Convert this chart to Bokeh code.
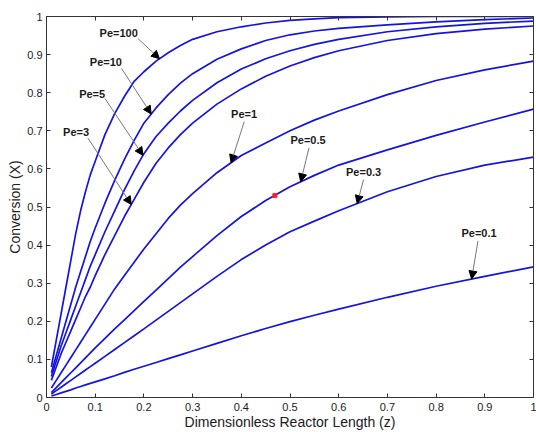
import numpy as np
from bokeh.plotting import figure
from bokeh.models import Arrow, NormalHead, LinearAxis, FixedTicker, ColumnDataSource
from bokeh.core.properties import value
from bokeh.embed import file_html
from bokeh.resources import INLINE

# ---- data ----
z = [0.01, 0.02, 0.03, 0.04, 0.05, 0.06, 0.07, 0.08, 0.09, 0.1, 0.12, 0.14, 0.16, 0.18, 0.2,
     0.225, 0.25, 0.275, 0.3, 0.35, 0.4, 0.45, 0.5, 0.55, 0.6, 0.7, 0.8, 0.9, 1.0]

pe100 = [0.08, 0.15, 0.22, 0.29, 0.36, 0.43, 0.49, 0.54, 0.585, 0.62, 0.69, 0.745, 0.79, 0.83, 0.855,
         0.883, 0.905, 0.924, 0.94, 0.96, 0.973, 0.983, 0.99, 0.994, 0.997, 0.999, 1.0, 1.0, 1.0]
pe10 = [0.065, 0.11, 0.155, 0.2, 0.245, 0.29, 0.33, 0.37, 0.41, 0.445, 0.51, 0.57, 0.625, 0.675, 0.72,
        0.76, 0.795, 0.825, 0.85, 0.888, 0.915, 0.937, 0.952, 0.962, 0.969, 0.978, 0.986, 0.992, 0.996]
pe5 = [0.055, 0.095, 0.135, 0.17, 0.205, 0.24, 0.275, 0.31, 0.345, 0.375, 0.435, 0.49, 0.545, 0.595, 0.64,
       0.685, 0.72, 0.752, 0.78, 0.826, 0.862, 0.889, 0.91, 0.927, 0.94, 0.96, 0.973, 0.982, 0.988]
pe3 = [0.045, 0.08, 0.115, 0.145, 0.175, 0.205, 0.235, 0.265, 0.29, 0.32, 0.375, 0.425, 0.475, 0.52, 0.565,
       0.615, 0.655, 0.69, 0.72, 0.77, 0.81, 0.843, 0.87, 0.892, 0.91, 0.937, 0.955, 0.967, 0.975]
pe1 = [0.025, 0.045, 0.065, 0.085, 0.105, 0.125, 0.145, 0.165, 0.185, 0.205, 0.245, 0.285, 0.32, 0.355, 0.39,
       0.43, 0.47, 0.505, 0.535, 0.59, 0.635, 0.668, 0.70, 0.728, 0.752, 0.795, 0.832, 0.86, 0.883]
pe05 = [0.013, 0.026, 0.039, 0.052, 0.065, 0.078, 0.091, 0.104, 0.117, 0.13, 0.155, 0.18, 0.204, 0.228, 0.252,
        0.282, 0.312, 0.342, 0.37, 0.425, 0.475, 0.517, 0.553, 0.583, 0.61, 0.65, 0.688, 0.723, 0.757]
pe03 = [0.009, 0.018, 0.027, 0.036, 0.045, 0.054, 0.063, 0.072, 0.081, 0.09, 0.108, 0.126, 0.144, 0.162, 0.18,
        0.203, 0.226, 0.249, 0.272, 0.318, 0.362, 0.40, 0.435, 0.463, 0.49, 0.54, 0.58, 0.61, 0.631]
pe01 = [0.004, 0.008, 0.012, 0.016, 0.02, 0.025, 0.029, 0.033, 0.037, 0.041, 0.049, 0.057, 0.066, 0.074, 0.082,
        0.092, 0.102, 0.112, 0.122, 0.142, 0.162, 0.181, 0.199, 0.216, 0.232, 0.263, 0.292, 0.318, 0.343]

curves = [pe100, pe10, pe5, pe3, pe1, pe05, pe03, pe01]
labels = ["Pe=100", "Pe=10", "Pe=5", "Pe=3", "Pe=1", "Pe=0.5", "Pe=0.3", "Pe=0.1"]
label_x = [0.109, 0.089, 0.067, 0.034, 0.379, 0.501, 0.615, 0.852]
label_y = [0.956, 0.881, 0.797, 0.696, 0.744, 0.677, 0.591, 0.431]
arrow_from_x = [0.188, 0.154, 0.12, 0.085, 0.406, 0.539, 0.651, 0.886]
arrow_from_y = [0.942, 0.864, 0.785, 0.681, 0.724, 0.655, 0.572, 0.411]
arrow_tip_z = [0.232, 0.215, 0.198, 0.174, 0.379, 0.522, 0.638, 0.873]

marker_z = [0.469]
marker_x = [0.530]

x_ticks = [0, 0.1, 0.2, 0.3, 0.4, 0.5, 0.6, 0.7, 0.8, 0.9, 1]
x_tick_labels = ["0", "0.1", "0.2", "0.3", "0.4", "0.5", "0.6", "0.7", "0.8", "0.9", "1"]
y_ticks = [0, 0.1, 0.2, 0.3, 0.4, 0.5, 0.6, 0.7, 0.8, 0.9, 1]
y_tick_labels = ["0", "0.1", "0.2", "0.3", "0.4", "0.5", "0.6", "0.7", "0.8", "0.9", "1"]

FONT = "Liberation Sans"
AX = "#333333"

p = figure(width=536, height=432, x_range=(0, 1), y_range=(0, 1),
           output_backend="svg", toolbar_location=None,
           min_border_left=46, min_border_right=3, min_border_top=16, min_border_bottom=33)
p.grid.visible = False
p.outline_line_color = AX
p.background_fill_color = "white"
p.border_fill_color = "white"

for ax, ticks, labs in ((p.xaxis[0], x_ticks, x_tick_labels), (p.yaxis[0], y_ticks, y_tick_labels)):
    ax.ticker = FixedTicker(ticks=ticks)
    ax.major_label_overrides = {t: l for t, l in zip(ticks, labs)}
    ax.major_tick_in = 4
    ax.major_tick_out = 0
    ax.minor_tick_line_color = None
    ax.axis_line_color = AX
    ax.major_tick_line_color = AX
    ax.major_label_text_font = FONT
    ax.major_label_text_font_size = "11px"
    ax.major_label_text_color = "#1a1a1a"
    ax.axis_label_text_font = FONT
    ax.axis_label_text_font_size = "14px"
    ax.axis_label_text_font_style = "normal"
    ax.axis_label_text_color = "#1a1a1a"

p.xaxis.axis_label = "Dimensionless Reactor Length (z)"
p.yaxis.axis_label = "Conversion (X)"
p.xaxis.major_label_standoff = 5
p.xaxis.axis_label_standoff = 0
p.yaxis.major_label_standoff = 4
p.yaxis.axis_label_standoff = 1

for loc, ticks in (("above", x_ticks), ("right", y_ticks)):
    a = LinearAxis(ticker=FixedTicker(ticks=ticks), major_label_text_font_size="0px",
                   major_tick_in=4, major_tick_out=0, minor_tick_line_color=None,
                   axis_line_color=AX, major_tick_line_color=AX, major_label_standoff=0)
    p.add_layout(a, loc)

for c in curves:
    p.line(z, c, line_color="#1414e0", line_width=1.7)

p.scatter(marker_z, marker_x, marker="square", size=4, fill_color="#ff2020", line_color="#ff2020")

src = ColumnDataSource(dict(x=label_x, y=label_y, text=labels))
p.text(x="x", y="y", text="text", source=src, text_font=value(FONT), text_font_size="11px",
       text_font_style="bold", text_color="#1a1a1a", text_align="left", text_baseline="middle")

for c, fx, fy, tz in zip(curves, arrow_from_x, arrow_from_y, arrow_tip_z):
    ty = float(np.interp(tz, z, c))
    p.add_layout(Arrow(end=NormalHead(size=8, fill_color="black", line_color="black"),
                       x_start=fx, y_start=fy, x_end=tz, y_end=ty,
                       line_color="#777777", line_width=1))

open("out.html", "w").write(file_html(p, INLINE))
